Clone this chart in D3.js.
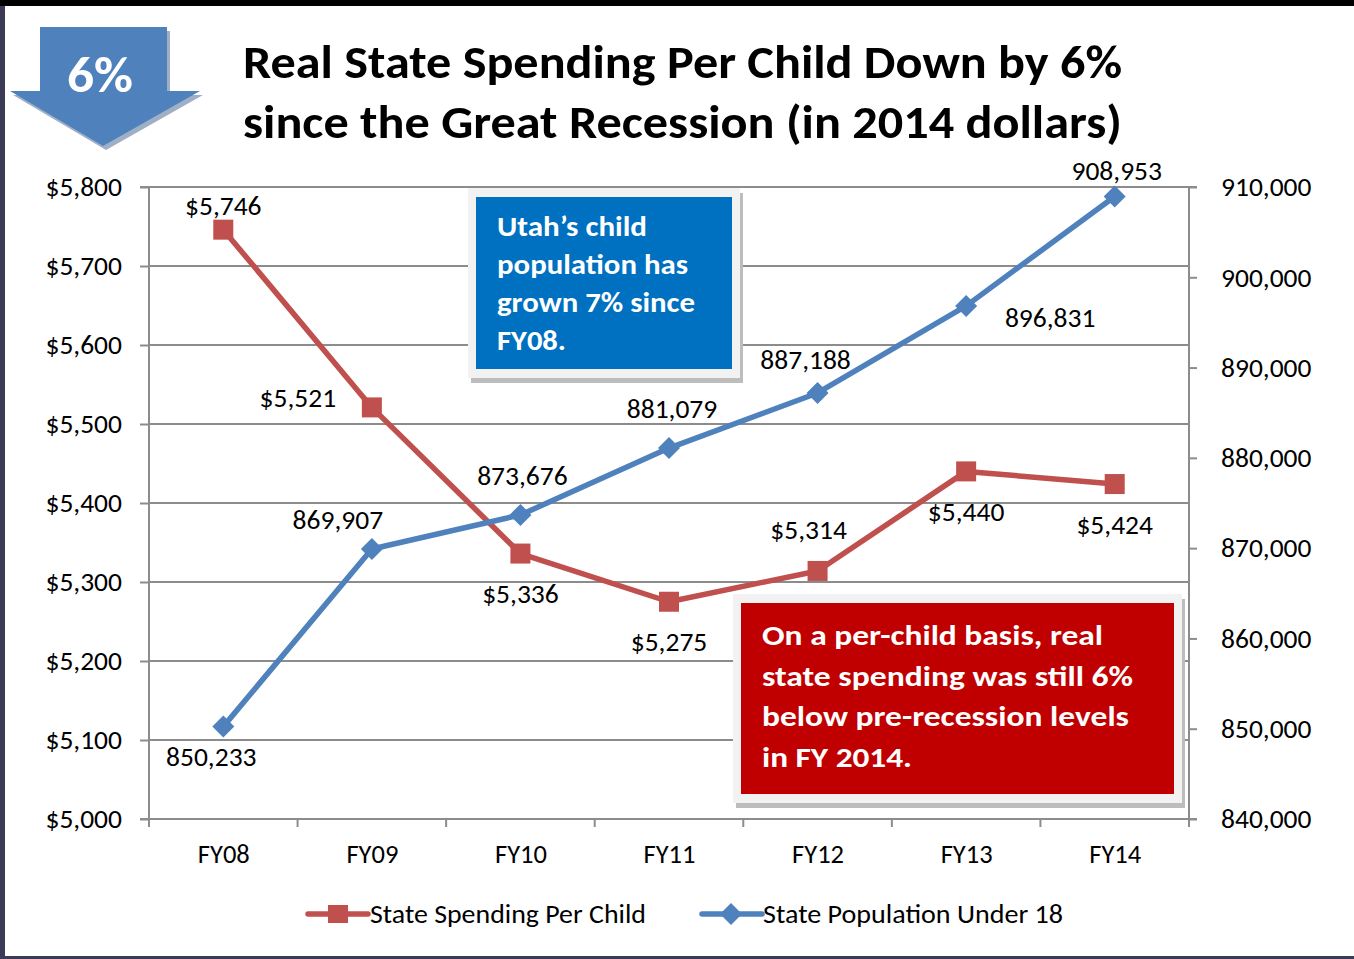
<!DOCTYPE html>
<html><head><meta charset="utf-8">
<script src="https://cdn.jsdelivr.net/npm/d3@7"></script>
<style>
html,body{margin:0;padding:0;background:#fff;}
svg{display:block;}
text{font-family:Carlito, Calibri, Lato, "Open Sans", sans-serif;}
</style></head>
<body>
<script>
// ---- data ----
const categories = ["FY08","FY09","FY10","FY11","FY12","FY13","FY14"];
const spending = [5746, 5521, 5336, 5275, 5314, 5440, 5424];
const population = [850233, 869907, 873676, 881079, 887188, 896831, 908953];
const leftTicks = [5000,5100,5200,5300,5400,5500,5600,5700,5800];
const rightTicks = [840000,850000,860000,870000,880000,890000,900000,910000];
const seriesNames = ["State Spending Per Child","State Population Under 18"];
const titleLines = ["Real State Spending Per Child Down by 6%","since the Great Recession (in 2014 dollars)"];
const blueNote = ["Utah\u2019s child","population has","grown 7% since","FY08."];
const redNote = ["On a per-child basis, real","state spending was still 6%","below pre-recession levels","in FY 2014."];

// label offsets (style) relative to the point
const spendLabelOff = [[0,-15],[-74,0],[0,49],[0,49],[-9,-32],[0,50],[0,50]];
const popLabelOff = [[-12,39],[-34,-20],[2,-30],[3,-30],[-12,-24],[84,21],[2,-16]];

const W=1354,H=959;
const svg=d3.select("body").append("svg").attr("width",W).attr("height",H);
svg.append("rect").attr("width",W).attr("height",H).attr("fill","#fff");

const m={l:149,r:1189,t:187,b:819};
const x=d3.scalePoint().domain(categories).range([m.l,m.r]).padding(0.5);
const xb=d3.scaleBand().domain(categories).range([m.l,m.r]);
const yL=d3.scaleLinear().domain([5000,5800]).range([m.b,m.t]);
const yR=d3.scaleLinear().domain([840000,910000]).range([m.b,m.t]);
const grey="#8c8c8c";
const RED="#c0504d", BLUE="#4f81bd";
const FS=27.5;

// gridlines
svg.append("g").selectAll("line").data(leftTicks.slice(1)).join("line")
  .attr("x1",m.l).attr("x2",m.r).attr("y1",d=>yL(d)).attr("y2",d=>yL(d))
  .attr("stroke",grey).attr("stroke-width",2);

// left axis
const gl=svg.append("g").attr("transform",`translate(${m.l},0)`)
  .call(d3.axisLeft(yL).tickValues(leftTicks).tickSize(9).tickPadding(18)
    .tickFormat(d=>"$"+d3.format(",")(d)));
// right axis
const gr=svg.append("g").attr("transform",`translate(${m.r},0)`)
  .call(d3.axisRight(yR).tickValues(rightTicks).tickSize(8).tickPadding(24)
    .tickFormat(d3.format(",")));
// bottom axis
const gb=svg.append("g").attr("transform",`translate(0,${m.b})`)
  .call(d3.axisBottom(x).tickSize(0).tickPadding(25));
// boundary ticks
svg.append("g").selectAll("line").data(categories.concat(["end"])).join("line")
  .attr("x1",(d,i)=>i<categories.length?xb(d):m.r).attr("x2",(d,i)=>i<categories.length?xb(d):m.r)
  .attr("y1",m.b).attr("y2",m.b+8).attr("stroke",grey).attr("stroke-width",2);

[gl,gr,gb].forEach(g=>{
  g.selectAll("path.domain").attr("stroke",grey).attr("stroke-width",2);
  g.selectAll(".tick line").attr("stroke",grey).attr("stroke-width",2);
  g.selectAll("text").attr("font-size",FS).attr("fill","#000")
   .attr("font-family","Carlito, Calibri, Lato, sans-serif");
});
gb.selectAll("text").attr("font-size",26.5);
gl.selectAll("path.domain").attr("d",`M-9,${m.t}H0V${m.b}H-9`);
gr.selectAll("path.domain").attr("d",`M8,${m.t}H0V${m.b}H8`);
gb.selectAll("path.domain").attr("d",`M${m.l},0H${m.r}`);

// lines
const lineS=d3.line().x((d,i)=>x(categories[i])).y(d=>yL(d));
const lineP=d3.line().x((d,i)=>x(categories[i])).y(d=>yR(d));
svg.append("path").attr("d",lineS(spending)).attr("fill","none").attr("stroke",RED).attr("stroke-width",5.5).attr("stroke-linejoin","round");
svg.append("path").attr("d",lineP(population)).attr("fill","none").attr("stroke",BLUE).attr("stroke-width",5.5).attr("stroke-linejoin","round");

// markers
svg.append("g").selectAll("rect").data(spending).join("rect")
  .attr("x",(d,i)=>x(categories[i])-10).attr("y",d=>yL(d)-10)
  .attr("width",20).attr("height",20).attr("fill",RED);
svg.append("g").selectAll("path").data(population).join("path")
  .attr("transform",(d,i)=>`translate(${x(categories[i])},${yR(d)})`)
  .attr("d","M0,-11L11,0L0,11L-11,0Z").attr("fill",BLUE);

// data labels
svg.append("g").selectAll("text").data(spending).join("text")
  .attr("x",(d,i)=>x(categories[i])+spendLabelOff[i][0])
  .attr("y",(d,i)=>yL(d)+spendLabelOff[i][1])
  .attr("text-anchor","middle").attr("font-size",FS).attr("fill","#000")
  .text(d=>"$"+d3.format(",")(d));
svg.append("g").selectAll("text").data(population).join("text")
  .attr("x",(d,i)=>x(categories[i])+popLabelOff[i][0])
  .attr("y",(d,i)=>yR(d)+popLabelOff[i][1])
  .attr("text-anchor","middle").attr("font-size",FS).attr("fill","#000")
  .text(d=>d3.format(",")(d));

// note boxes
function noteBox(x0,y0,w,h,fill,lines,tx,ty,dy,fs,lens){
  const g=svg.append("g");
  g.append("rect").attr("x",x0+3).attr("y",y0+5).attr("width",w).attr("height",h).attr("fill","#bdbdbd");
  g.append("rect").attr("x",x0).attr("y",y0).attr("width",w).attr("height",h).attr("fill","#f2f2f2");
  g.append("rect").attr("x",x0+8).attr("y",y0+9).attr("width",w-16).attr("height",h-18).attr("fill",fill);
  g.selectAll("text").data(lines).join("text")
   .attr("x",tx).attr("y",(d,i)=>ty+i*dy).attr("fill","#fff").attr("font-weight","bold")
   .attr("font-size",fs).attr("textLength",(d,i)=>lens[i]).attr("lengthAdjust","spacingAndGlyphs")
   .text(d=>d);
}
noteBox(468,188,272,190,"#0070c0",blueNote,497,236,38,28,[150,191,198,69]);
noteBox(733,594,449,209,"#c00000",redNote,762,645,40.7,29,[341,371,367,150]);

// title
svg.append("g").selectAll("text").data(titleLines).join("text")
  .attr("x",243).attr("y",(d,i)=>78+i*60).attr("font-size",46).attr("font-weight","bold")
  .attr("fill","#000").attr("textLength",879).attr("lengthAdjust","spacingAndGlyphs").text(d=>d);

// arrow
const arrowPts=[[40,27],[167,27],[167,91],[200,91],[103,146],[10,91],[40,91]];
svg.append("path").attr("d",d3.line()(arrowPts.map(p=>[p[0]+3,p[1]+4])))
  .attr("fill","#9fb0c6");
svg.append("path").attr("d",d3.line()(arrowPts)+"Z").attr("fill",BLUE);
svg.append("text").attr("x",100).attr("y",92).attr("text-anchor","middle")
  .attr("font-size",50).attr("font-weight","bold").attr("fill","#fff")
  .attr("textLength",66).attr("lengthAdjust","spacingAndGlyphs").text("6%");

// legend
const lg=svg.append("g");
lg.append("line").attr("x1",308).attr("x2",368).attr("y1",914).attr("y2",914).attr("stroke",RED).attr("stroke-width",5.5).attr("stroke-linecap","round");
lg.append("rect").attr("x",328).attr("y",905).attr("width",20).attr("height",18).attr("fill",RED);
lg.append("line").attr("x1",702).attr("x2",762).attr("y1",914).attr("y2",914).attr("stroke",BLUE).attr("stroke-width",5.5).attr("stroke-linecap","round");
lg.append("path").attr("transform","translate(731,914)").attr("d","M0,-11L11,0L0,11L-11,0Z").attr("fill",BLUE);
lg.selectAll("text").data(seriesNames).join("text")
  .attr("x",(d,i)=>i?763:370).attr("y",923).attr("font-size",27).attr("fill","#000")
  .attr("textLength",(d,i)=>i?300:276).attr("lengthAdjust","spacingAndGlyphs").text(d=>d);

// frame borders
svg.append("rect").attr("x",0).attr("y",0).attr("width",W).attr("height",6).attr("fill","#000");
svg.append("rect").attr("x",0).attr("y",6).attr("width",5).attr("height",H-6).attr("fill","#3b3b58");
svg.append("rect").attr("x",0).attr("y",956).attr("width",W).attr("height",3).attr("fill","#3b3b58");
</script>
</body></html>
